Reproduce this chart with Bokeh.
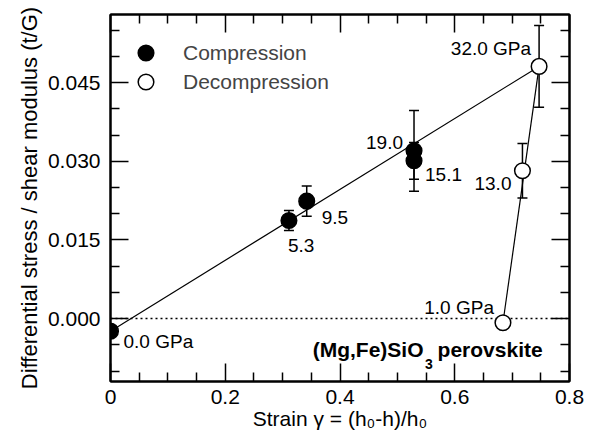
from bokeh.plotting import figure
from bokeh.models import (ColumnDataSource, Range1d, LinearAxis, FixedTicker, Whisker,
                          TeeHead, Span, Legend, LegendItem, Label)
from bokeh.core.properties import value
from bokeh.embed import file_html
from bokeh.resources import INLINE

# ---- data ----
comp_strain = [0.000, 0.311, 0.342, 0.529, 0.529]
comp_ratio = [-0.0024, 0.0187, 0.0224, 0.0320, 0.0301]
comp_err = [0.0, 0.0019, 0.0029, 0.0077, 0.0035]
comp_labels = ["0.0 GPa", "5.3", "9.5", "19.0", "15.1"]

decomp_strain = [0.747, 0.718, 0.684]
decomp_ratio = [0.0481, 0.0282, -0.0008]
decomp_err = [0.0078, 0.0052, 0.0]
decomp_labels = ["32.0 GPa", "13.0", "1.0 GPa"]

x_ticks = [0, 0.2, 0.4, 0.6, 0.8]
x_tick_labels = ["0", "0.2", "0.4", "0.6", "0.8"]
x_minor = [0.05, 0.1, 0.15, 0.25, 0.3, 0.35, 0.45, 0.5, 0.55, 0.65, 0.7, 0.75]
y_ticks = [0.0, 0.015, 0.030, 0.045]
y_tick_labels = ["0.000", "0.015", "0.030", "0.045"]
y_minor = [-0.010, -0.005, 0.005, 0.010, 0.020, 0.025, 0.035, 0.040, 0.050, 0.055]

# label placement (screen px offsets) - style only
comp_dx = [13, -1, 15, -11, 11]
comp_dy = [10, 25, 16, -8, 14]
comp_align = ["left", "left", "left", "right", "left"]
decomp_dx = [-8, -11, -9]
decomp_dy = [-18, 13, -15]
decomp_align = ["right", "right", "right"]

FONT = "Liberation Sans"

p = figure(width=594, height=440, output_backend="svg", toolbar_location=None,
           x_range=Range1d(0, 0.8), y_range=Range1d(-0.012, 0.058),
           min_border_left=110, min_border_right=25, min_border_top=14, min_border_bottom=59)
p.grid.visible = False
p.outline_line_color = "black"
p.outline_line_width = 2
p.background_fill_color = "white"
p.border_fill_color = "white"

def style_axis(ax, ticks, minor, labels=None, show=True):
    ax.ticker = FixedTicker(ticks=ticks, minor_ticks=minor)
    ax.major_tick_in = 18
    ax.major_tick_out = 0
    ax.minor_tick_in = 9
    ax.minor_tick_out = 0
    ax.major_tick_line_width = 1.5
    ax.minor_tick_line_width = 1.5
    ax.axis_line_width = 2
    ax.axis_line_color = "black"
    ax.major_tick_line_color = "black"
    ax.minor_tick_line_color = "black"
    if show:
        ax.major_label_overrides = {t: l for t, l in zip(ticks, labels)}
        ax.major_label_text_font = FONT
        ax.major_label_text_font_size = "21px"
        ax.major_label_text_color = "black"
        ax.axis_label_text_font = FONT
        ax.axis_label_text_font_size = "21px"
        ax.axis_label_text_font_style = "normal"
        ax.axis_label_text_color = "black"
    else:
        ax.major_label_text_color = None
        ax.major_label_text_font_size = "0px"
        ax.major_label_standoff = 0
        ax.axis_label = None

xa = p.xaxis[0]
ya = p.yaxis[0]
style_axis(xa, x_ticks, x_minor, x_tick_labels)
style_axis(ya, y_ticks, y_minor, y_tick_labels)
xa.axis_label = "Strain γ = (h₀-h)/h₀"
ya.axis_label = "Differential stress / shear modulus (t/G)"
ya.axis_label_text_font_size = "22px"
xa.major_label_standoff = 8
xa.axis_label_standoff = 0
ya.major_label_standoff = 10
ya.axis_label_standoff = 3

top = LinearAxis()
style_axis(top, x_ticks, x_minor, show=False)
p.add_layout(top, "above")
right = LinearAxis()
style_axis(right, y_ticks, y_minor, show=False)
p.add_layout(right, "right")

# zero line
zero = Span(location=0, dimension="width", line_color="black", line_width=1.5,
            line_dash="2 3", level="underlay")
p.add_layout(zero)

# trend lines (through the data endpoints)
p.line([comp_strain[0], decomp_strain[0]], [comp_ratio[0], decomp_ratio[0]],
       line_color="black", line_width=1.2)
p.line([decomp_strain[-1], decomp_strain[0]], [decomp_ratio[-1], decomp_ratio[0]],
       line_color="black", line_width=1.2)

# error bars
ex, eu, el = [], [], []
for xs, ys, es in ((comp_strain, comp_ratio, comp_err), (decomp_strain, decomp_ratio, decomp_err)):
    for xv, yv, ev in zip(xs, ys, es):
        if ev > 0:
            ex.append(xv); eu.append(yv + ev); el.append(yv - ev)
esrc = ColumnDataSource(dict(x=ex, upper=eu, lower=el))
wh = Whisker(source=esrc, base="x", upper="upper", lower="lower", dimension="height",
             line_color="black", line_width=1.5, level="underlay",
             upper_head=TeeHead(size=10, line_width=1.5, line_color="black"),
             lower_head=TeeHead(size=10, line_width=1.5, line_color="black"))
p.add_layout(wh)

csrc = ColumnDataSource(dict(x=comp_strain, y=comp_ratio, t=comp_labels,
                             dx=comp_dx, dy=comp_dy, al=comp_align))
dsrc = ColumnDataSource(dict(x=decomp_strain, y=decomp_ratio, t=decomp_labels,
                             dx=decomp_dx, dy=decomp_dy, al=decomp_align))

r_comp = p.scatter("x", "y", source=csrc, size=15.6, marker="circle",
                   fill_color="black", line_color="black", line_width=1.5)
r_decomp = p.scatter("x", "y", source=dsrc, size=15.6, marker="circle",
                     fill_color="white", line_color="black", line_width=1.5)

for src in (csrc, dsrc):
    p.text("x", "y", text="t", source=src, x_offset="dx", y_offset="dy",
           text_align="al", text_baseline="middle", text_font=value(FONT),
           text_font_size="19px", text_color="black")

# legend (two single-item legends so the marker matches the data markers)
for item, loc in ((LegendItem(label="Compression", renderers=[r_comp]), (16, 309)),
                  (LegendItem(label="Decompression", renderers=[r_decomp]), (16, 280))):
    lg = Legend(items=[item], location=loc, glyph_width=39, glyph_height=39,
                label_standoff=18, label_text_font=FONT, label_text_font_size="21px",
                label_text_baseline="middle", padding=0, margin=0, spacing=0,
                border_line_alpha=0, background_fill_alpha=0)
    p.add_layout(lg, "center")

# sample label
lbl_kw = dict(x_units="screen", y_units="screen", text_font=FONT, text_font_style="bold",
              text_color="black")
p.add_layout(Label(x=438, y=21, text=" perovskite", text_align="right",
                   text_font_size="21px", **lbl_kw))
p.add_layout(Label(x=318.5, y=13, text="3", text_align="center",
                   text_font_size="14px", **lbl_kw))
p.add_layout(Label(x=313, y=21, text="(Mg,Fe)SiO", text_align="right",
                   text_font_size="21px", **lbl_kw))

open("out.html", "w").write(file_html(p, INLINE))
